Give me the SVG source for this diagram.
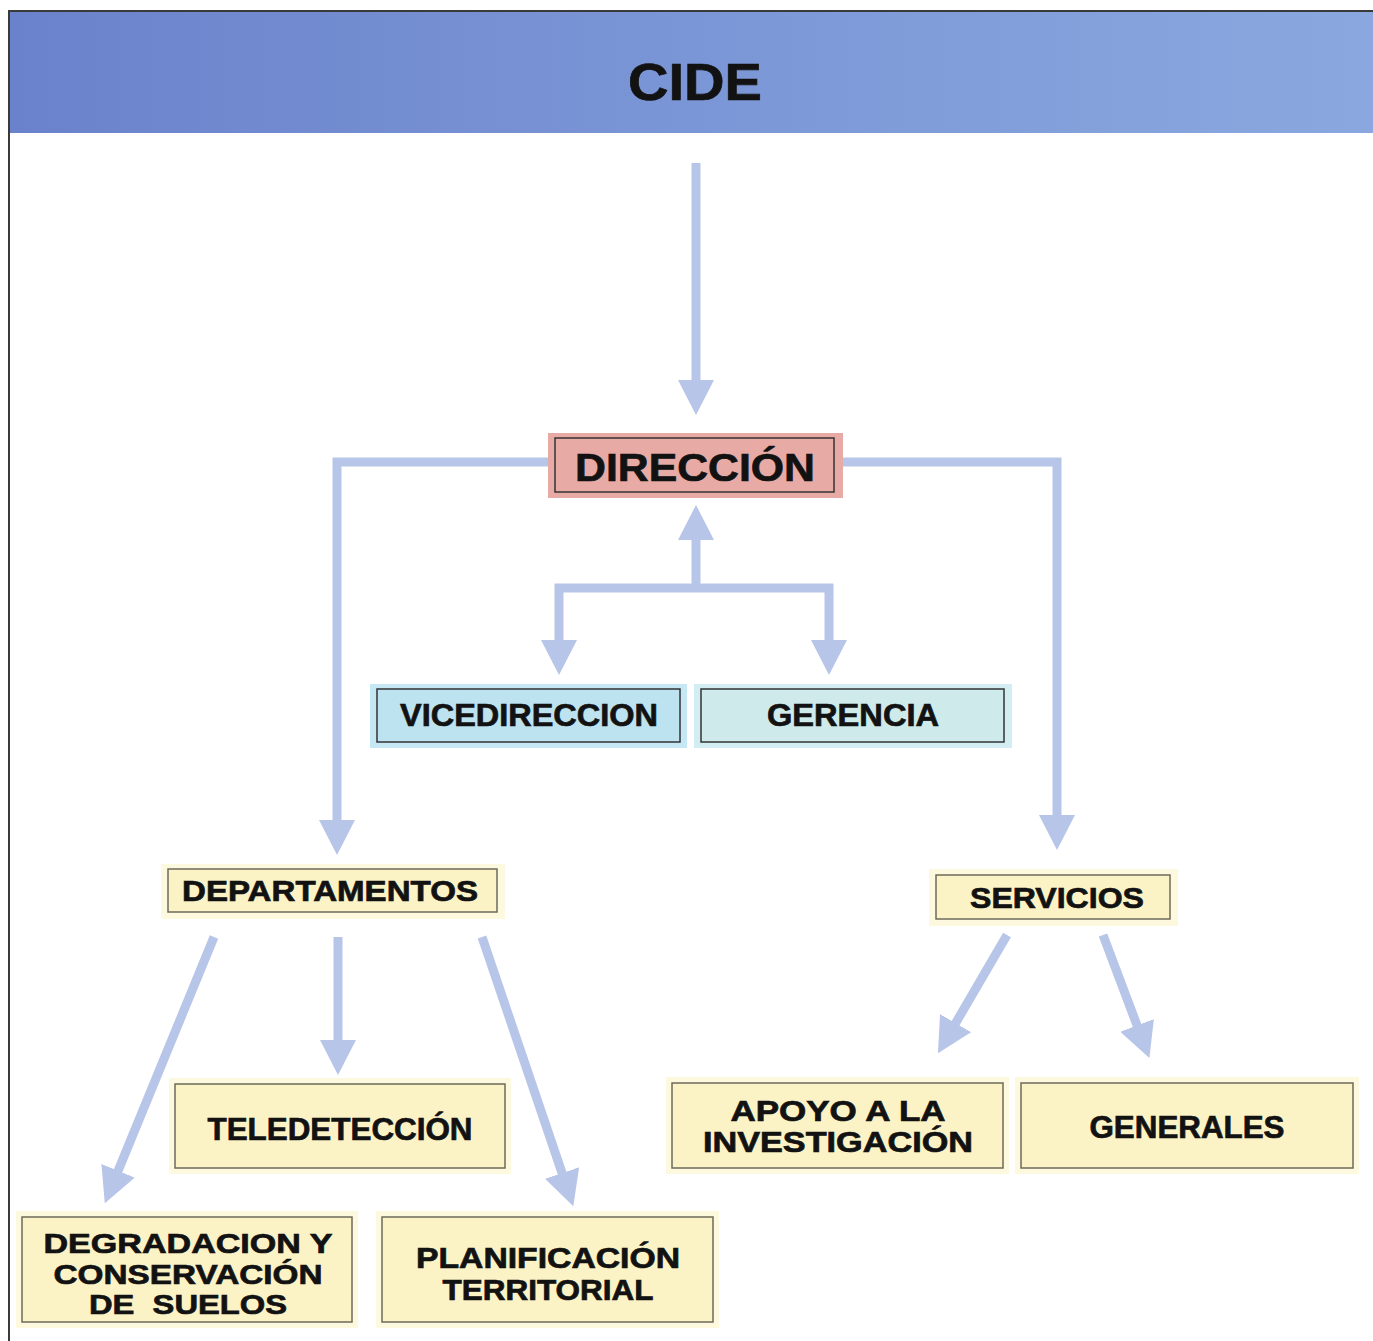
<svg xmlns="http://www.w3.org/2000/svg" width="1373" height="1341" viewBox="0 0 1373 1341">
<style>
.t{font-family:"Liberation Sans",Arial,sans-serif;font-weight:bold;fill:#121212;stroke:#121212;stroke-width:0.7;text-anchor:middle}
.conn{fill:none;stroke:#b7c5e9;stroke-width:9;stroke-linejoin:miter}
.glowY{fill:#fdf9de}
.boxY{fill:#fbf3c6;stroke:#6e6a5a;stroke-width:1.5}
.inner{fill:none;stroke:#333;stroke-width:1.5}
</style>
<defs>
<linearGradient id="ban" x1="0" y1="0" x2="1" y2="0">
<stop offset="0" stop-color="#6a82cb"/>
<stop offset="0.5" stop-color="#7b96d6"/>
<stop offset="1" stop-color="#8aa8df"/>
</linearGradient>
<marker id="ah" markerUnits="userSpaceOnUse" viewBox="0 0 35 36" markerWidth="35" markerHeight="36" refX="1" refY="18" orient="auto">
<path d="M0,0 L35,18 L0,36 Z" fill="#b7c5e9"/>
</marker>
</defs>
<rect x="0" y="0" width="1373" height="1341" fill="#ffffff"/>
<g id="banner">
<rect x="9" y="12" width="1364" height="121" fill="url(#ban)"/>
<line x1="8" y1="11" x2="1373" y2="11" stroke="#3a3a3a" stroke-width="2"/>
<line x1="9" y1="10" x2="9" y2="1341" stroke="#3a3a3a" stroke-width="2"/>
<text class="t" x="695" y="100" font-size="52" stroke-width="1.5" textLength="134" lengthAdjust="spacingAndGlyphs">CIDE</text>
</g>
<g id="connectors">
<path class="conn" d="M696,163 L696,381" marker-end="url(#ah)"/>
<path class="conn" d="M552,462 L337,462 L337,821" marker-end="url(#ah)"/>
<path class="conn" d="M840,462 L1057,462 L1057,816" marker-end="url(#ah)"/>
<path class="conn" d="M696,592 L696,539" marker-end="url(#ah)"/>
<path class="conn" d="M696,588 L559,588 L559,641" marker-end="url(#ah)"/>
<path class="conn" d="M696,588 L829,588 L829,641" marker-end="url(#ah)"/>
<path class="conn" d="M214,937 L117.7,1171.7" marker-end="url(#ah)"/>
<path class="conn" d="M338,937 L338,1041" marker-end="url(#ah)"/>
<path class="conn" d="M482,937 L562.4,1174" marker-end="url(#ah)"/>
<path class="conn" d="M1007,935 L955.1,1024" marker-end="url(#ah)"/>
<path class="conn" d="M1103,935 L1137.4,1026.3" marker-end="url(#ah)"/>
</g>
<g id="direccion">
<rect x="548" y="433" width="295" height="65" fill="#e8aaa5"/>
<rect x="555" y="438" width="279" height="54" class="inner"/>
<text class="t" x="695" y="481" font-size="39" textLength="240" lengthAdjust="spacingAndGlyphs">DIRECCIÓN</text>
</g>
<g id="vicedireccion">
<rect x="370" y="684" width="317" height="64" fill="#c6e7f4"/>
<rect x="377" y="689" width="303" height="53" fill="#bde3f1" stroke="#333" stroke-width="1.5"/>
<text class="t" x="529" y="726" font-size="32" textLength="258" lengthAdjust="spacingAndGlyphs">VICEDIRECCION</text>
</g>
<g id="gerencia">
<rect x="694" y="684" width="318" height="64" fill="#d3eef3"/>
<rect x="701" y="689" width="303" height="53" fill="#cfeaea" stroke="#333" stroke-width="1.5"/>
<text class="t" x="853" y="726" font-size="32" textLength="172" lengthAdjust="spacingAndGlyphs">GERENCIA</text>
</g>
<g id="departamentos">
<rect x="161" y="864" width="344" height="55" class="glowY"/>
<rect x="168" y="869" width="329" height="43" class="boxY"/>
<text class="t" x="330" y="901" font-size="29" textLength="296" lengthAdjust="spacingAndGlyphs">DEPARTAMENTOS</text>
</g>
<g id="servicios">
<rect x="929" y="869" width="249" height="57" class="glowY"/>
<rect x="936" y="875" width="234" height="44" class="boxY"/>
<text class="t" x="1057" y="908" font-size="30" textLength="174" lengthAdjust="spacingAndGlyphs">SERVICIOS</text>
</g>
<g id="teledeteccion">
<rect x="169" y="1078" width="342" height="96" class="glowY"/>
<rect x="175" y="1084" width="330" height="84" class="boxY"/>
<text class="t" x="340" y="1140" font-size="31" textLength="265" lengthAdjust="spacingAndGlyphs">TELEDETECCIÓN</text>
</g>
<g id="degradacion">
<rect x="16" y="1211" width="342" height="117" class="glowY"/>
<rect x="22" y="1217" width="330" height="105" class="boxY"/>
<text class="t" x="188" y="1253" font-size="28" textLength="289" lengthAdjust="spacingAndGlyphs">DEGRADACION Y</text>
<text class="t" x="188" y="1284" font-size="28" textLength="269" lengthAdjust="spacingAndGlyphs">CONSERVACIÓN</text>
<text class="t" x="188" y="1314" font-size="28" textLength="198" lengthAdjust="spacingAndGlyphs" xml:space="preserve">DE  SUELOS</text>
</g>
<g id="planificacion">
<rect x="376" y="1211" width="343" height="117" class="glowY"/>
<rect x="382" y="1217" width="331" height="105" class="boxY"/>
<text class="t" x="548" y="1268" font-size="29" textLength="264" lengthAdjust="spacingAndGlyphs">PLANIFICACIÓN</text>
<text class="t" x="548" y="1300" font-size="29" textLength="211" lengthAdjust="spacingAndGlyphs">TERRITORIAL</text>
</g>
<g id="apoyo">
<rect x="666" y="1077" width="343" height="97" class="glowY"/>
<rect x="672" y="1083" width="331" height="85" class="boxY"/>
<text class="t" x="838" y="1121" font-size="29" textLength="215" lengthAdjust="spacingAndGlyphs">APOYO A LA</text>
<text class="t" x="838" y="1152" font-size="29" textLength="270" lengthAdjust="spacingAndGlyphs">INVESTIGACIÓN</text>
</g>
<g id="generales">
<rect x="1015" y="1077" width="344" height="97" class="glowY"/>
<rect x="1021" y="1083" width="332" height="85" class="boxY"/>
<text class="t" x="1187" y="1138" font-size="31" textLength="195" lengthAdjust="spacingAndGlyphs">GENERALES</text>
</g>
</svg>
